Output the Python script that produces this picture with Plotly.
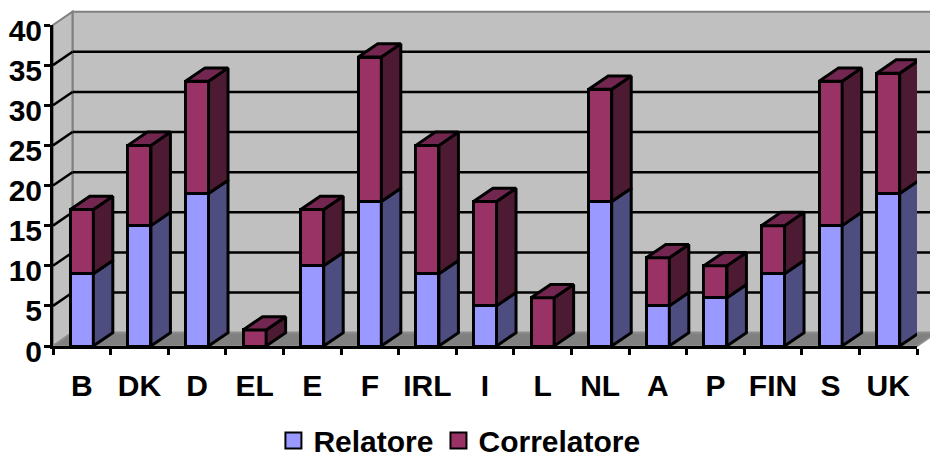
import plotly.graph_objects as go

categories = ["B", "DK", "D", "EL", "E", "F", "IRL", "I", "L", "NL", "A", "P", "FIN", "S", "UK"]
relatore = [9, 15, 19, 0, 10, 18, 9, 5, 0, 18, 5, 6, 9, 15, 19]
correlatore = [8, 10, 14, 2, 7, 18, 16, 13, 6, 14, 6, 4, 6, 18, 15]
y_ticks = [0, 5, 10, 15, 20, 25, 30, 35, 40]

W, H = 930, 458
L, R, T, B = 53, 13, 25, 112
n = len(categories)
ymax = 40
FRONT_H = H - T - B
LABEL_DROP = 5            # px the y labels sit below their ticks
EXTRA = 30                # px of room under the front plane kept for the shifted label axis
AREA_H = FRONT_H + EXTRA
d = EXTRA / AREA_H
DX = 19.5 / ((W - L - R) / n)  # depth in category units
DY = 13.3 / (FRONT_H / ymax)   # depth in value units
BW = 0.4
FONT = dict(family="Liberation Sans", size=30, color="black", weight="bold")
LW = 3
centers = [i + 0.5 for i in range(n)]


def polys(quads):
    xs, ys = [], []
    for q in quads:
        for a, b in q + [q[0]]:
            xs.append(a)
            ys.append(b)
        xs.append(None)
        ys.append(None)
    return xs, ys


def face(quads, color):
    xs, ys = polys(quads)
    return go.Scatter(x=xs, y=ys, mode="lines", fill="toself", fillcolor=color,
                      line=dict(color="black", width=LW), cliponaxis=False,
                      hoverinfo="skip", showlegend=False)


fig = go.Figure()
fig.add_bar(x=centers, y=relatore, width=BW, marker=dict(color="#9999FF", line=dict(color="black", width=LW)),
            showlegend=False, cliponaxis=False)
fig.add_bar(x=centers, y=correlatore, width=BW, marker=dict(color="#993366", line=dict(color="black", width=LW)),
            showlegend=False, cliponaxis=False)

side_r, side_c, top_c = [], [], []
for c, r, k in zip(centers, relatore, correlatore):
    x1 = c + BW / 2
    x0 = c - BW / 2
    if r > 0:
        side_r.append([(x1, 0), (x1 + DX, DY), (x1 + DX, r + DY), (x1, r)])
    if k > 0:
        side_c.append([(x1, r), (x1 + DX, r + DY), (x1 + DX, r + k + DY), (x1, r + k)])
    s = r + k
    top_c.append([(x0, s), (x0 + DX, s + DY), (x1 + DX, s + DY), (x1, s)])
fig.add_trace(face(side_r, "#4D4D80"))
fig.add_trace(face(side_c, "#4D1A33"))
fig.add_trace(face(top_c, "#732650"))

# legend entries, drawn on the axis that carries the y labels
for name, col in [("Relatore", "#9999FF"), ("Correlatore", "#993366")]:
    fig.add_trace(go.Scatter(x=[None], y=[None], yaxis="y2", mode="markers", name=name,
                             marker=dict(symbol="square", size=16, color=col,
                                         line=dict(color="black", width=2))))


def px(x):
    return x / n


def py(y):
    return d + (1 - d) * y / ymax


def path(pts):
    return "M" + "L".join(f"{px(a)},{py(b)}" for a, b in pts) + "Z"


shapes = []


def wall(pts, fill, line=None):
    shapes.append(dict(type="path", xref="paper", yref="paper", layer="below", path=path(pts),
                       fillcolor=fill, line=dict(color=line or fill, width=2)))


wall([(DX, DY), (n + DX, DY), (n + DX, ymax + DY), (DX, ymax + DY)], "#C0C0C0", "#808080")
wall([(0, 0), (DX, DY), (DX, ymax + DY), (0, ymax)], "#C0C0C0", "#808080")
wall([(0, 0), (DX, DY), (n + DX, DY), (n, 0)], "#808080", "#8C8C8C")
for v in y_ticks[1:-1]:
    for a, b in [((0, v), (DX, v + DY)), ((DX, v + DY), (n + DX, v + DY))]:
        shapes.append(dict(type="line", xref="paper", yref="paper", layer="below",
                           x0=px(a[0]), y0=py(a[1]), x1=px(b[0]), y1=py(b[1]),
                           line=dict(color="black", width=2.5)))

fig.update_layout(
    width=W, height=H, margin=dict(l=L, r=R, t=T, b=B - EXTRA, autoexpand=False),
    paper_bgcolor="white", plot_bgcolor="rgba(0,0,0,0)", barmode="stack",
    shapes=shapes, font=FONT, showlegend=True,
    legend=dict(orientation="h", x=0.494, xref="container", xanchor="center", y=0.038, yref="container",
                yanchor="middle", font=FONT, itemwidth=30, traceorder="normal", bgcolor="rgba(0,0,0,0)"),
    xaxis=dict(range=[0, n], tickmode="array", tickvals=centers, ticktext=categories, ticks="",
               tickfont=FONT, ticklabelstandoff=11, showgrid=False, zeroline=False,
               showline=True, linecolor="black", linewidth=LW,
               minor=dict(tickmode="array", tickvals=list(range(n + 1)), ticks="outside",
                          ticklen=6, tickwidth=LW, tickcolor="black", showgrid=False)),
    yaxis=dict(domain=[d, 1], range=[0, ymax], tickmode="array", tickvals=y_ticks, ticktext=[""] * len(y_ticks),
               ticks="outside", ticklen=6, tickwidth=LW, tickcolor="black", showgrid=False, zeroline=False,
               showline=True, linecolor="black", linewidth=LW),
    yaxis2=dict(domain=[d - LABEL_DROP / AREA_H, 1 - LABEL_DROP / AREA_H], anchor="x", side="left",
                range=[0, ymax], tickmode="array", tickvals=y_ticks,
                ticks="", tickfont=FONT, ticklabelstandoff=10, showgrid=False, zeroline=False, showline=False),
)
fig.write_html("out.html", config=dict(displayModeBar=False),
               post_script="document.body.style.margin='0';document.documentElement.style.overflow='hidden';window.dispatchEvent(new Event('resize'));")
